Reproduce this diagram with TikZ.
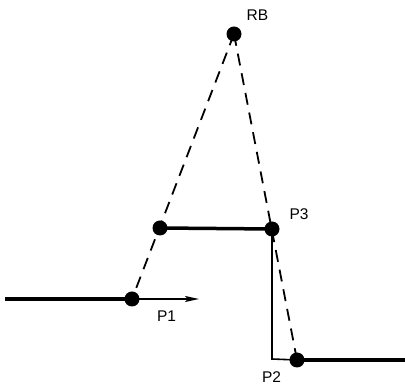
\documentclass[tikz,border=0pt]{standalone}
\usepackage{fontspec}
\setmainfont{Liberation Sans}
\usetikzlibrary{arrows.meta}
\begin{document}
\begin{tikzpicture}[x=1pt,y=1pt,
  dot/.style={circle,fill=black,inner sep=0pt,minimum size=15pt},
  thickline/.style={line width=3.5pt},
  thinline/.style={line width=1.6pt},
  dashline/.style={line width=1.8pt,dash pattern=on 12pt off 8pt},
  lbl/.style={font=\fontsize{15.5}{15.5}\selectfont,inner sep=0pt}]
\useasboundingbox (0,0) rectangle (405,391);
% positions (y = 391 - pixel y)
\coordinate (crb) at (234,357);
\coordinate (cq) at (160,163);
\coordinate (cp3) at (272,162);
\coordinate (cp1) at (132,92);
\coordinate (cp2) at (297,31);
\coordinate (lend) at (5,92);
\coordinate (rend) at (405,31);
\coordinate (corner) at (272,32);
\coordinate (tip) at (199,92);
% connectors
\draw[dashline] (crb) -- (cp1);
\draw[dashline] (crb) -- (cp2);
\draw[thickline] (lend) -- (cp1);
\draw[thickline] (cq) -- (cp3);
\draw[thickline] (cp2) -- (rend);
\draw[thinline] (cp3) -- (corner) -- (cp2);
\draw[thinline,-{Stealth[length=14pt,width=6pt,inset=3pt]}] (cp1) -- (tip);
% dots
\node[dot] (rb) at (crb) {};
\node[dot] (q) at (cq) {};
\node[dot] (p3) at (cp3) {};
\node[dot] (p1) at (cp1) {};
\node[dot] (p2) at (cp2) {};
% labels
\node[lbl] (lrb) at (257.5,375.5) {RB};
\node[lbl] (lp3) at (299,176.5) {P3};
\node[lbl] (lp1) at (166.5,75) {P1};
\node[lbl] (lp2) at (271.5,13.5) {P2};
\end{tikzpicture}
\end{document}
